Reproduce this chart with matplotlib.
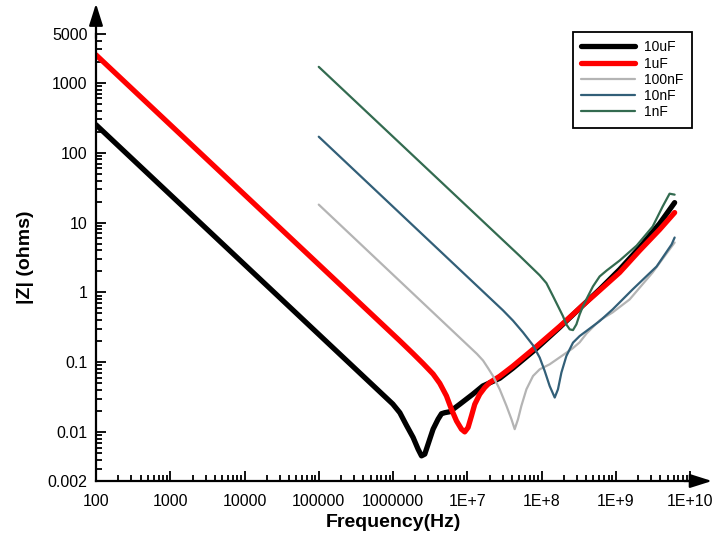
import matplotlib
matplotlib.use("Agg")
import matplotlib.pyplot as plt
from matplotlib.ticker import FixedLocator, NullFormatter, FixedFormatter

plt.rcParams['font.family'] = ['Liberation Sans', 'DejaVu Sans']

# ---- data ----
f_10uF = [100, 9.93e5, 1.236e6, 1.52e6, 1.866e6, 2.178e6, 2.42e6,
          2.68e6, 3.126e6, 3.467e6, 4.046e6, 4.498e6, 4.977e6, 5.808e6, 7.925e6,
          1.186e7, 1.618e7, 2.735e7, 4.093e7, 8.61e7, 1.758e8, 3.589e8, 6.067e8,
          1.13e9, 2.099e9, 3.899e9, 6.209e9]
z_10uF = [251, 0.0253, 0.0190, 0.0125, 0.0084, 0.00571, 0.00458,
          0.00485, 0.00794, 0.01104, 0.01535, 0.01837, 0.0190, 0.0196, 0.0251,
          0.0349, 0.0458, 0.0590, 0.0820, 0.1585, 0.3162, 0.652, 1.104,
          2.133, 4.395, 9.68, 19.3]

f_1uF = [100, 1.236e6, 1.866e6, 2.541e6, 3.467e6, 4.266e6, 5.248e6, 6.124e6, 7.161e6,
         8.356e6, 9.25e6, 1.026e7, 1.14e7, 1.262e7, 1.472e7, 1.722e7, 2.009e7,
         2.735e7, 4.093e7, 8.61e7, 1.758e8, 3.589e8, 6.067e8, 1.13e9, 2.099e9,
         3.899e9, 6.209e9]
z_1uF = [2512, 0.2030, 0.1330, 0.0960, 0.0680, 0.0500, 0.0330, 0.0213, 0.0145,
         0.01104, 0.01009, 0.01167, 0.0171, 0.0251, 0.0349, 0.0436, 0.0513,
         0.0631, 0.0877, 0.1694, 0.3266, 0.652, 1.069, 1.932, 3.981,
         7.943, 13.9]

f_100nF = [1e5, 1.35e7, 1.633e7, 1.9e7, 2.223e7, 2.735e7, 3.373e7, 3.936e7, 4.355e7,
           4.831e7, 5.358e7, 6.266e7, 7.691e7, 9.462e7, 1.288e8, 1.928e8, 2.63e8,
           3.266e8, 4.055e8, 6.067e8, 9.078e8, 1.538e9, 3.141e9, 6.209e9]
z_100nF = [18.07, 0.132, 0.1060, 0.083, 0.0637, 0.0411, 0.0238, 0.01535, 0.01104,
           0.01535, 0.0238, 0.0411, 0.0637, 0.0794, 0.0936, 0.1259, 0.1585,
           0.1932, 0.2596, 0.398, 0.5176, 0.794, 1.932, 5.18]

f_10nF = [1e5, 3.034e7, 4.13e7, 5.636e7, 7.691e7, 9.462e7, 1.104e8, 1.288e8, 1.507e8,
          1.667e8, 1.854e8, 2.163e8, 2.655e8, 3.266e8, 4.018e8, 6.067e8, 9.078e8,
          1.687e9, 3.548e9, 5.649e9, 6.209e9]
z_10nF = [169.4, 0.553, 0.395, 0.268, 0.175, 0.1167, 0.0752, 0.0458, 0.0313,
          0.0411, 0.0713, 0.123, 0.191, 0.2377, 0.280, 0.389, 0.5715,
          1.104, 2.35, 4.853, 6.109]

f_1nF = [1e5, 5.093e7, 9.462e7, 1.164e8, 1.429e8, 1.667e8, 1.945e8, 2.158e8, 2.399e8,
         2.655e8, 2.951e8, 3.266e8, 3.622e8, 4.227e8, 4.932e8, 6.067e8, 7.551e8,
         1.13e9, 1.914e9, 3.141e9, 4.276e9, 5.309e9, 6.209e9]
z_1nF = [1694, 3.327, 1.758, 1.36, 0.885, 0.637, 0.458, 0.349, 0.296,
         0.289, 0.349, 0.485, 0.637, 0.885, 1.219, 1.694, 2.061,
         2.864, 4.688, 8.77, 16.94, 25.9, 25.1]

x_ticks = [1e2, 1e3, 1e4, 1e5, 1e6, 1e7, 1e8, 1e9, 1e10]
x_labels = ["100", "1000", "10000", "100000", "1000000", "1E+7", "1E+8", "1E+9", "1E+10"]
y_ticks = [0.002, 0.01, 0.1, 1, 10, 100, 1000, 5000]
y_labels = ["0.002", "0.01", "0.1", "1", "10", "100", "1000", "5000"]

series = [
    ("10uF", f_10uF, z_10uF, "#000000", 3.8),
    ("1uF", f_1uF, z_1uF, "#ff0000", 3.8),
    ("100nF", f_100nF, z_100nF, "#b4b4b4", 1.6),
    ("10nF", f_10nF, z_10nF, "#325f78", 1.6),
    ("1nF", f_1nF, z_1nF, "#336b50", 1.6),
]

fig = plt.figure(figsize=(7.17, 5.35), dpi=100)
ax = fig.add_axes([96 / 717, 1 - 481 / 535, 594 / 717, 447 / 535])

for name, f, z, c, lw in series:
    ax.plot(f, z, color=c, lw=lw, label=name, solid_capstyle='round',
            solid_joinstyle='round')

ax.set_xscale('log')
ax.set_yscale('log')
ax.set_xlim(1e2, 1e10)
ax.set_ylim(0.002, 5000)

ax.xaxis.set_major_locator(FixedLocator(x_ticks))
ax.xaxis.set_major_formatter(FixedFormatter(x_labels))
xminor = [m * 10.0 ** e for e in range(2, 10) for m in range(2, 10)]
ax.xaxis.set_minor_locator(FixedLocator(xminor))
ax.xaxis.set_minor_formatter(NullFormatter())

ax.yaxis.set_major_locator(FixedLocator(y_ticks))
ax.yaxis.set_major_formatter(FixedFormatter(y_labels))
yminor = [m * 10.0 ** e for e in range(-3, 4) for m in range(2, 10)]
yminor = [v for v in yminor if 0.0025 < v < 4900]
ax.yaxis.set_minor_locator(FixedLocator(yminor))
ax.yaxis.set_minor_formatter(NullFormatter())

ax.tick_params(which='both', direction='in', width=1.3, colors='black')
ax.tick_params(which='major', length=7)
ax.tick_params(which='minor', length=4)
ax.tick_params(axis='x', which='major', labelsize=11.5, pad=9)
ax.tick_params(axis='y', which='major', labelsize=11.5, pad=6)

for s in ['top', 'right']:
    ax.spines[s].set_visible(False)
for s in ['bottom', 'left']:
    ax.spines[s].set_linewidth(1.6)

# axis arrows
arrow_kw = dict(arrowstyle='-|>,head_length=0.95,head_width=0.3', color='black',
                lw=1.6, shrinkA=0, shrinkB=0, mutation_scale=14)
ax.annotate('', xy=(1.037, 0), xytext=(0.99, 0), xycoords='axes fraction',
            textcoords='axes fraction', arrowprops=arrow_kw, annotation_clip=False)
ax.annotate('', xy=(0, 1.068), xytext=(0, 0.99), xycoords='axes fraction',
            textcoords='axes fraction', arrowprops=arrow_kw, annotation_clip=False)

ax.set_xlabel('Frequency(Hz)', fontsize=14, fontweight='bold', labelpad=4)
ax.set_ylabel('|Z| (ohms)', fontsize=14, fontweight='bold', labelpad=10)

leg = fig.legend(loc='upper right', bbox_to_anchor=(692 / 717, 1 - 32 / 535),
                 fontsize=10, frameon=True, fancybox=False, framealpha=1,
                 edgecolor='black', handlelength=3.9, handletextpad=0.65,
                 borderpad=0.6, labelspacing=0.16, borderaxespad=0)
leg.get_frame().set_linewidth(1.3)

fig.savefig('out.png', dpi=100)
